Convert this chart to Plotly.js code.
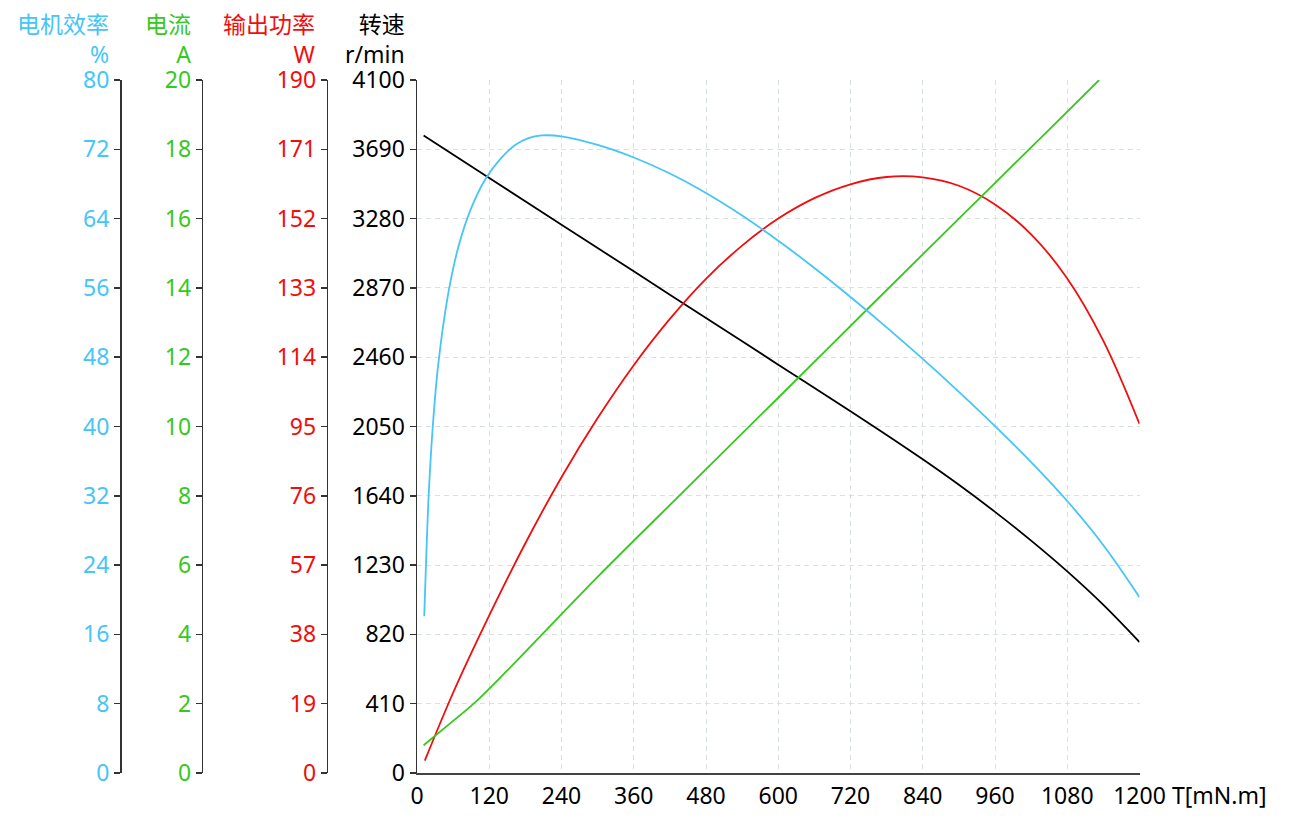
<!DOCTYPE html>
<html>
<head>
<meta charset="utf-8">
<script src="https://cdn.plot.ly/plotly-3.0.1.min.js"></script>
<style>
  html, body { margin: 0; padding: 0; background: #ffffff; }
  #chart { width: 1300px; height: 829px; }
</style>
</head>
<body>
<div id="chart"></div>
<script>
// ---------------- data ----------------
// speed, r/min
const speedTorque = [11, 120, 240, 360, 480, 600, 720, 780, 840, 900, 960, 1020, 1080, 1140, 1200];
const speedValues = [3771, 3520, 3244, 2968, 2692, 2416, 2140, 2000, 1856, 1705, 1545, 1375, 1193, 995, 775];

// current, A
const currentTorque = [11, 50, 96, 150, 205, 300, 450, 600, 750, 900, 1050, 1133];
const currentValues = [0.80, 1.36, 2.03, 2.96, 3.95, 5.66, 8.25, 10.83, 13.42, 16.0, 18.57, 20.0];

// output power, W
const powerTorque = [13, 60, 120, 180, 240, 300, 360, 420, 480, 540, 600, 660, 720, 780, 840, 900, 960, 1020, 1080, 1140, 1200];
const powerValues = [3.4, 22.0, 43.2, 63.0, 81.1, 97.3, 111.8, 124.5, 135.5, 144.6, 152.0, 157.6, 161.4, 163.4, 163.3, 161.0, 155.9, 147.7, 135.6, 118.5, 95.7];

// motor efficiency, %
const effTorque = [12, 15, 19, 26, 35, 52, 69, 90, 114, 140, 163, 185, 207, 240, 300, 360, 420, 480, 540, 600, 660, 720, 780, 840, 900, 960, 1020, 1080, 1140, 1200];
const effValues = [18.1, 24.2, 31.5, 39.8, 47.0, 55.4, 60.8, 65.2, 68.6, 71.0, 72.5, 73.3, 73.6, 73.5, 72.5, 71.05, 69.2, 66.95, 64.35, 61.45, 58.3, 54.95, 51.45, 47.8, 44.0, 40.05, 35.9, 31.4, 26.3, 20.3];

// axis ticks
const torqueTicks = [0, 120, 240, 360, 480, 600, 720, 840, 960, 1080, 1200];
const speedTicks = [0, 410, 820, 1230, 1640, 2050, 2460, 2870, 3280, 3690, 4100];
const powerTicks = [0, 19, 38, 57, 76, 95, 114, 133, 152, 171, 190];
const currentTicks = [0, 2, 4, 6, 8, 10, 12, 14, 16, 18, 20];
const effTicks = [0, 8, 16, 24, 32, 40, 48, 56, 64, 72, 80];

// labels
const effTitle = ['电机效率', '%'];
const currentTitle = ['电流', 'A'];
const powerTitle = ['输出功率', 'W'];
const speedTitle = ['转速', 'r/min'];
const torqueTitle = 'T[mN.m]';

// ---------------- styling ----------------
const FONT = '"Noto Sans", "Noto Sans CJK SC", sans-serif';
const FS = 23;
const BLUE = '#45c5f8';
const GREEN = '#36c81c';
const RED = '#f20d0d';
const BLACK = '#000000';
const AXIS = '#333333';
const W = 1300, H = 829;
const PLOT_L = 417, PLOT_R = 1139.5, PLOT_T = 80, PLOT_B = 773;
const px = x => x / W;
const py = y => 1 + (PLOT_T - y) / (PLOT_B - PLOT_T);

const lineW = 1.8;
const lineStyle = c => ({ color: c, width: lineW, shape: 'spline', smoothing: 1 });
const traces = [
  { x: effTorque, y: effValues, yaxis: 'y4', mode: 'lines', line: lineStyle(BLUE), hoverinfo: 'skip' },
  { x: powerTorque, y: powerValues, yaxis: 'y2', mode: 'lines', line: lineStyle(RED), hoverinfo: 'skip' },
  { x: currentTorque, y: currentValues, yaxis: 'y3', mode: 'lines', line: lineStyle(GREEN), hoverinfo: 'skip' },
  { x: speedTorque, y: speedValues, yaxis: 'y', mode: 'lines', line: lineStyle(BLACK), hoverinfo: 'skip' }
];

function sideAxis(ticks, color, extra) {
  return Object.assign({
    range: [ticks[0], ticks[ticks.length - 1]],
    tickmode: 'array',
    tickvals: ticks,
    ticktext: ticks.map(String),
    showgrid: false,
    zeroline: false,
    showline: true,
    linecolor: AXIS,
    linewidth: 1.5,
    ticks: 'outside',
    ticklen: 6,
    tickwidth: 1.5,
    tickcolor: AXIS,
    tickfont: { family: FONT, size: FS, color: color },
    side: 'left',
    fixedrange: true
  }, extra);
}

function titleAnn(lines, xPix, color) {
  return {
    text: lines.join('<br>'), align: 'right',
    x: px(xPix), y: py(38.5), xref: 'paper', yref: 'paper',
    xanchor: 'right', yanchor: 'middle', showarrow: false,
    font: { family: FONT, size: FS, color: color }
  };
}

const layout = {
  width: W, height: H,
  margin: { l: 0, r: 0, t: PLOT_T, b: H - PLOT_B, pad: 0 },
  paper_bgcolor: '#ffffff', plot_bgcolor: '#ffffff',
  showlegend: false,
  font: { family: FONT, size: FS, color: BLACK },
  xaxis: {
    domain: [px(PLOT_L), px(PLOT_R)],
    range: [0, 1200],
    tickmode: 'array', tickvals: torqueTicks, ticktext: torqueTicks.map(String),
    showgrid: true, gridcolor: '#d9e1e1', gridwidth: 1, griddash: '5px,4px',
    zeroline: false, showline: true, linecolor: '#444444', linewidth: 2,
    ticks: 'outside', ticklen: 1, tickcolor: 'rgba(0,0,0,0)',
    tickfont: { family: FONT, size: FS, color: BLACK },
    fixedrange: true
  },
  yaxis: sideAxis(speedTicks, BLACK, {
    anchor: 'x',
    showgrid: true, gridcolor: '#d9e1e1', gridwidth: 1, griddash: '5px,4px'
  }),
  yaxis2: sideAxis(powerTicks, RED, { overlaying: 'y', anchor: 'free', position: px(326.7) }),
  yaxis3: sideAxis(currentTicks, GREEN, { overlaying: 'y', anchor: 'free', position: px(201.7) }),
  yaxis4: sideAxis(effTicks, BLUE, { overlaying: 'y', anchor: 'free', position: px(120) }),
  annotations: [
    titleAnn(effTitle, 111, BLUE),
    titleAnn(currentTitle, 193, GREEN),
    titleAnn(powerTitle, 318, RED),
    titleAnn(speedTitle, 407, BLACK),
    { text: torqueTitle, x: px(1170), y: py(795), xref: 'paper', yref: 'paper', xanchor: 'left', yanchor: 'middle', showarrow: false, font: { family: FONT, size: FS, color: BLACK } }
  ]
};

Plotly.newPlot('chart', traces, layout, { displayModeBar: false, staticPlot: true });
</script>
</body>
</html>
